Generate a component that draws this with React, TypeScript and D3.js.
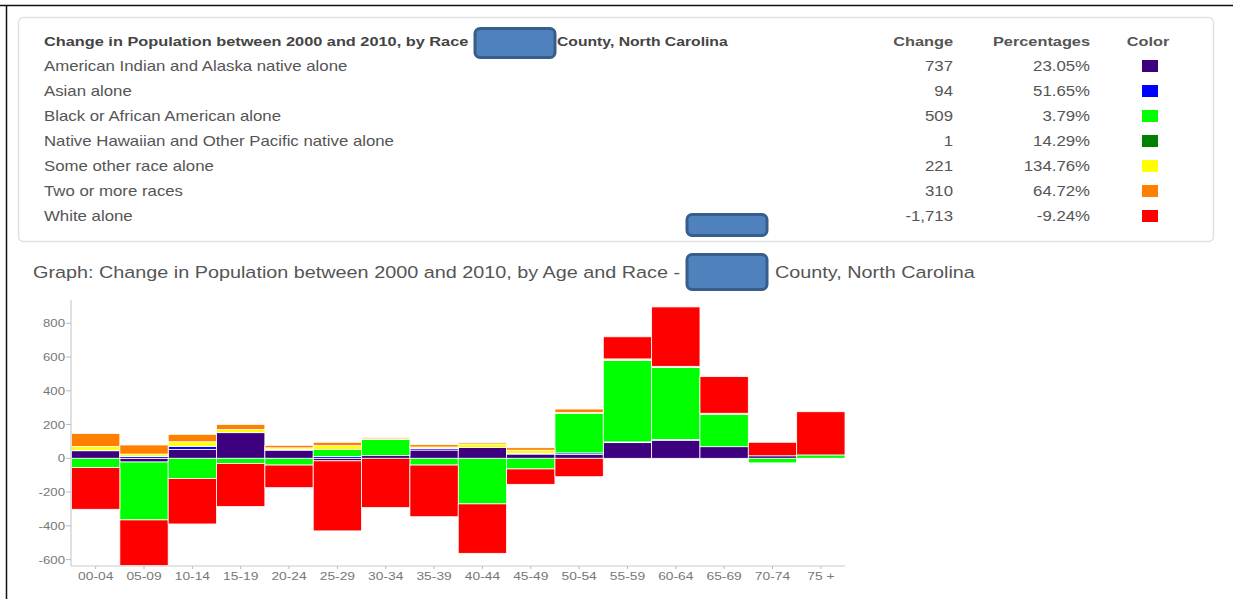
import React from "react";
import * as d3 from "d3";

const categories = ["00-04","05-09","10-14","15-19","20-24","25-29","30-34","35-39","40-44","45-49","50-54","55-59","60-64","65-69","70-74","75 +"];

const amInd   = [45,-22,53,152,48,-15,16,49,65,25,22,93,105,69,15,0];
const asian   = [3,10,18,0,4,10,0,10,0,5,10,4,6,0,0,0];
const black   = [-55,-343,-120,-30,-40,43,95,-40,-270,-63,235,484,427,192,-27,20];
const nhpi    = [0,0,0,0,0,0,0,0,0,0,0,0,1,0,0,0];
const other   = [22,15,27,18,10,22,5,8,20,18,5,2,2,0,0,0];
const twoPlus = [77,54,44,31,15,20,8,14,8,15,20,6,4,6,0,-4];
const white   = [-247,-270,-269,-256,-134,-415,-292,-306,-293,-91,-109,131,352,217,80,256];

const raceNames = [
  "American Indian and Alaska native alone",
  "Asian alone",
  "Black or African American alone",
  "Native Hawaiian and Other Pacific native alone",
  "Some other race alone",
  "Two or more races",
  "White alone",
];
const raceChange = ["737","94","509","1","221","310","-1,713"];
const racePct = ["23.05%","51.65%","3.79%","14.29%","134.76%","64.72%","-9.24%"];
const raceColors = ["#3d007f","#0000ff","#00ff00","#007f00","#ffff00","#ff8000","#ff0000"];
const seriesKeys = ["amInd","asian","black","nhpi","other","twoPlus","white"];
const seriesValues = [amInd, asian, black, nhpi, other, twoPlus, white];

const yTicks = [-600,-400,-200,0,200,400,600,800];
const yDomain = [-638, 938];

const FONT = "'Liberation Sans', Arial, Helvetica, sans-serif";
const SX = 1.2;

function T({ x, y, children, anchor = "start", size = 13.6, weight = "normal", fill = "#555" }: any) {
  return (
    <text
      transform={`translate(${x},${y}) scale(${SX},1)`}
      textAnchor={anchor}
      fontSize={size}
      fontWeight={weight}
      fill={fill}
      fontFamily={FONT}
    >
      {children}
    </text>
  );
}

function Redact({ x, y, w, h }: any) {
  return <rect x={x} y={y} width={w} height={h} rx={5} fill="#4f81bd" stroke="#385d8a" strokeWidth={3} />;
}

export default function App() {
  const rows = categories.map((c, i) => {
    const r: any = { cat: c };
    seriesKeys.forEach((k, j) => (r[k] = seriesValues[j][i]));
    return r;
  });
  const stacked = d3.stack<any>().keys(seriesKeys).offset(d3.stackOffsetDiverging)(rows);

  const x = d3.scaleBand<string>().domain(categories).range([71.5, 845]).padding(0);
  const y = d3.scaleLinear().domain(yDomain).range([566, 300]);

  const rowY = (i: number) => 71 + i * 25;

  return (
    <svg
      width={1233}
      height={599}
      style={{ position: "absolute", left: 0, top: 0, background: "#fff" }}
      xmlns="http://www.w3.org/2000/svg"
    >
      <rect x={0} y={0} width={1233} height={599} fill="#fff" />
      {/* outer frame */}
      <line x1={0} y1={5.5} x2={1233} y2={5.5} stroke="#111" strokeWidth={1.5} />
      <line x1={6.5} y1={5} x2={6.5} y2={599} stroke="#111" strokeWidth={1.5} />

      {/* table */}
      <rect x={18.5} y={17.5} width={1195} height={224} rx={5} fill="#fff" stroke="#e2e2e2" strokeWidth={1.5} />
      <T x={44} y={46} weight="bold" fill="#444">Change in Population between 2000 and 2010, by Race</T>
      <T x={557} y={46} weight="bold" fill="#444" size={13.1}>County, North Carolina</T>
      <T x={953} y={46} weight="bold" fill="#555" anchor="end">Change</T>
      <T x={1090} y={46} weight="bold" fill="#555" anchor="end">Percentages</T>
      <T x={1148} y={46} weight="bold" fill="#555" anchor="middle">Color</T>
      {raceNames.map((n, i) => (
        <g key={n}>
          <T x={44} y={rowY(i)} fill="#555" size={14}>{n}</T>
          <T x={953} y={rowY(i)} fill="#555" anchor="end" size={14}>{raceChange[i]}</T>
          <T x={1090} y={rowY(i)} fill="#555" anchor="end" size={14}>{racePct[i]}</T>
          <rect x={1142} y={rowY(i) - 11} width={16} height={12} fill={raceColors[i]} />
        </g>
      ))}
      <Redact x={475} y={28.5} w={80} h={29} />
      <Redact x={687} y={214.5} w={80} h={21} />

      {/* chart title */}
      <T x={33} y={278} size={16.5} fill="#555">Graph: Change in Population between 2000 and 2010, by Age and Race -</T>
      <T x={775} y={278} size={16.5} fill="#555">County, North Carolina</T>
      <Redact x={687} y={254.5} w={80} h={35} />

      {/* bars */}
      {stacked.map((s, j) => (
        <g key={s.key} fill={raceColors[j]}>
          {s.map((d, i) => {
            const y0 = y(d[0]);
            const y1 = y(d[1]);
            const h = Math.abs(y0 - y1);
            if (h < 0.01) return null;
            return (
              <rect
                key={i}
                x={x(categories[i])!}
                y={Math.min(y0, y1)}
                width={x.bandwidth()}
                height={h}
                stroke="#fff"
                strokeWidth={0.8}
              />
            );
          })}
        </g>
      ))}

      {/* y axis */}
      <line x1={71} y1={300} x2={71} y2={566} stroke="#ccc" strokeWidth={1.2} />
      {yTicks.map((t) => (
        <g key={t}>
          <line x1={66} x2={71} y1={y(t)} y2={y(t)} stroke="#bbb" />
          <T x={65} y={y(t) + 4} size={11} fill="#777" anchor="end">{String(t)}</T>
        </g>
      ))}

      {/* x axis */}
      <line x1={71} y1={566} x2={845} y2={566} stroke="#ccc" strokeWidth={1.2} />
      {categories.map((c) => (
        <g key={c}>
          <line x1={x(c)! + x.bandwidth() / 2} x2={x(c)! + x.bandwidth() / 2} y1={566} y2={569} stroke="#bbb" />
          <T x={x(c)! + x.bandwidth() / 2} y={580} size={11.5} fill="#777" anchor="middle">{c}</T>
        </g>
      ))}
    </svg>
  );
}
